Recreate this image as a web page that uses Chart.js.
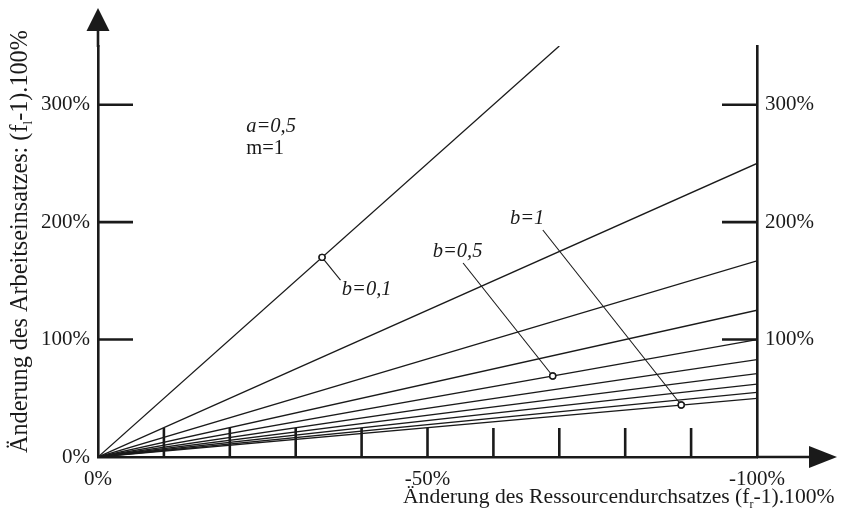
<!DOCTYPE html>
<html><head><meta charset="utf-8">
<script src="https://cdn.jsdelivr.net/npm/chart.js@4.4.1/dist/chart.umd.min.js"></script>
<style>html,body{margin:0;padding:0;background:#fff;overflow:hidden}</style>
</head><body>
<canvas id="c" width="851" height="510" style="display:block"></canvas>
<script>
// Parameter b of each curve (a=0,5, m=1)
const seriesB = ['0,1','0,2','0,3','0,4','0,5','0,6','0,7','0,8','0,9','1'];
// End point of each curve: x = Änderung des Ressourcendurchsatzes (%), y = Änderung des Arbeitseinsatzes (%)
const seriesEndX = [-70, -100, -100, -100, -100, -100, -100, -100, -100, -100];
const seriesEndY = [350, 250, 167, 125, 100, 83, 71, 62, 55, 50];
// Marked points on the curves b=0,1 / b=0,5 / b=1
const markerLabels = ['b=0,1', 'b=0,5', 'b=1'];
const markerX = [-34, -69, -88.5];
const markerY = [170, 69, 44.3];
// Axis ticks
const xTickValues = [0, -50, -100];
const xMinorTicks = [-10, -20, -30, -40, -50, -60, -70, -80, -90];
const yTickValuesLeft = [0, 100, 200, 300];
const yTickValuesRight = [100, 200, 300];
const yMarkTicks = [100, 200, 300];

const INK = '#1a1a1a';
const FONT = "'Liberation Serif','Times New Roman',serif";

// Annotation placement (data coordinates)
const ANNOT = {
  texts: [
    {t: 'a=0,5', x: -22.5, y: 276.8, italic: true},
    {t: 'm=1',   x: -22.5, y: 258.0, italic: false},
    {t: markerLabels[0], x: -37.0, y: 138.0, italic: true},
    {t: markerLabels[1], x: -50.8, y: 170.3, italic: true},
    {t: markerLabels[2], x: -62.5, y: 198.4, italic: true}
  ],
  pointers: [
    {from: [-36.8, 150.7], to: 0},
    {from: [-55.4, 165.2], to: 1},
    {from: [-67.5, 193.3], to: 2}
  ]
};

const lineSets = seriesB.map((b, i) => ({
  label: 'b=' + b,
  data: [{x: 0, y: 0}, {x: seriesEndX[i], y: seriesEndY[i]}],
  showLine: true,
  borderColor: INK,
  borderWidth: 1.3,
  pointRadius: 0,
  yAxisID: 'y'
}));

const markerSet = {
  label: 'markers',
  data: markerX.map((x, i) => ({x, y: markerY[i]})),
  showLine: false,
  pointStyle: 'circle',
  pointRadius: 3,
  pointBorderWidth: 1.4,
  pointBorderColor: INK,
  pointBackgroundColor: '#fff',
  yAxisID: 'y'
};

function seg(ctx, x1, y1, x2, y2) { ctx.beginPath(); ctx.moveTo(x1, y1); ctx.lineTo(x2, y2); ctx.stroke(); }

// draws a title with a subscript, scaled so that it spans `len` pixels
function drawSubTitle(ctx, parts, len) {
  const widthAt = size => parts.reduce((w, p) => {
    ctx.font = (p.sub ? size * 0.55 : size) + 'px ' + FONT;
    return w + ctx.measureText(p.t).width;
  }, 0);
  const size = 20 * len / widthAt(20);
  let cx = 0;
  parts.forEach(p => {
    const s = p.sub ? size * 0.55 : size;
    ctx.font = s + 'px ' + FONT;
    ctx.fillText(p.t, cx, p.sub ? size * 0.22 : 0);
    cx += ctx.measureText(p.t).width;
  });
}

const overlay = {
  id: 'overlay',
  afterDraw(chart) {
    const {ctx, chartArea: a, scales: {x, y}} = chart;
    ctx.save();
    ctx.strokeStyle = INK; ctx.fillStyle = INK; ctx.lineCap = 'butt';
    // axis extensions and arrows
    ctx.lineWidth = 2.6;
    seg(ctx, a.left, a.top + 1, a.left, 30);
    seg(ctx, a.right, a.bottom, 810, a.bottom);
    ctx.beginPath(); ctx.moveTo(a.left, 8); ctx.lineTo(a.left - 11.5, 31); ctx.lineTo(a.left + 11.5, 31); ctx.closePath(); ctx.fill();
    ctx.beginPath(); ctx.moveTo(837, a.bottom); ctx.lineTo(809, a.bottom - 11); ctx.lineTo(809, a.bottom + 11); ctx.closePath(); ctx.fill();
    // inward ticks
    yMarkTicks.forEach(v => {
      const py = y.getPixelForValue(v);
      seg(ctx, a.left, py, a.left + 35, py);
      seg(ctx, a.right - 35, py, a.right, py);
    });
    xMinorTicks.forEach(v => {
      const px = x.getPixelForValue(v);
      seg(ctx, px, a.bottom, px, a.bottom - 29);
    });
    // pointer lines
    ctx.lineWidth = 1.1;
    ANNOT.pointers.forEach(p => {
      const m = p.to;
      seg(ctx, x.getPixelForValue(p.from[0]), y.getPixelForValue(p.from[1]),
        x.getPixelForValue(markerX[m]), y.getPixelForValue(markerY[m]));
    });
    // redraw marker circles on top
    markerX.forEach((mx, i) => {
      ctx.beginPath();
      ctx.arc(x.getPixelForValue(mx), y.getPixelForValue(markerY[i]), 3, 0, Math.PI * 2);
      ctx.fillStyle = '#fff'; ctx.fill();
      ctx.lineWidth = 1.4; ctx.strokeStyle = INK; ctx.stroke();
    });
    ctx.fillStyle = INK;
    // texts
    ctx.textAlign = 'left'; ctx.textBaseline = 'alphabetic';
    ANNOT.texts.forEach(t => {
      ctx.font = (t.italic ? 'italic ' : '') + '20.5px ' + FONT;
      ctx.fillText(t.t, x.getPixelForValue(t.x), y.getPixelForValue(t.y));
    });
    // x axis title
    ctx.save();
    ctx.translate(403, 503);
    drawSubTitle(ctx, [{t: 'Änderung des Ressourcendurchsatzes (f'}, {t: 'r', sub: true}, {t: '-1).100%'}], 432);
    ctx.restore();
    // y axis title
    ctx.save();
    ctx.translate(27, 453);
    ctx.rotate(-Math.PI / 2);
    drawSubTitle(ctx, [{t: 'Änderung des Arbeitseinsatzes: (f'}, {t: 'l', sub: true}, {t: '-1).100%'}], 423);
    ctx.restore();
    ctx.restore();
  }
};

new Chart(document.getElementById('c').getContext('2d'), {
  type: 'scatter',
  data: {datasets: [markerSet, ...lineSets]},
  options: {
    responsive: false,
    animation: false,
    devicePixelRatio: 1,
    layout: {padding: {top: 46, left: 0, right: 0, bottom: 0}},
    plugins: {legend: {display: false}, tooltip: {enabled: false}},
    scales: {
      x: {
        type: 'linear', position: 'bottom', min: -100, max: 0, reverse: true,
        afterBuildTicks: s => { s.ticks = xTickValues.map(v => ({value: v})); },
        afterFit: s => { s.height = 53; },
        grid: {display: false, drawTicks: false},
        border: {display: true, color: INK, width: 2.6},
        ticks: {padding: 10, color: INK, font: {family: FONT, size: 21}, maxRotation: 0, autoSkip: false,
          callback: v => v + '%'}
      },
      y: {
        type: 'linear', position: 'left', min: 0, max: 350,
        afterBuildTicks: s => { s.ticks = yTickValuesLeft.map(v => ({value: v})); },
        afterFit: s => { s.width = 98; },
        grid: {display: false, drawTicks: false},
        border: {display: true, color: INK, width: 2.6},
        ticks: {padding: 8, color: INK, font: {family: FONT, size: 21}, autoSkip: false, callback: v => v + '%'}
      },
      y2: {
        type: 'linear', position: 'right', min: 0, max: 350,
        afterBuildTicks: s => { s.ticks = yTickValuesRight.map(v => ({value: v})); },
        afterFit: s => { s.width = 94; },
        grid: {display: false, drawTicks: false},
        border: {display: true, color: INK, width: 2.6},
        ticks: {padding: 8, color: INK, font: {family: FONT, size: 21}, autoSkip: false, callback: v => v + '%'}
      }
    }
  },
  plugins: [overlay]
});
</script>
</body></html>
